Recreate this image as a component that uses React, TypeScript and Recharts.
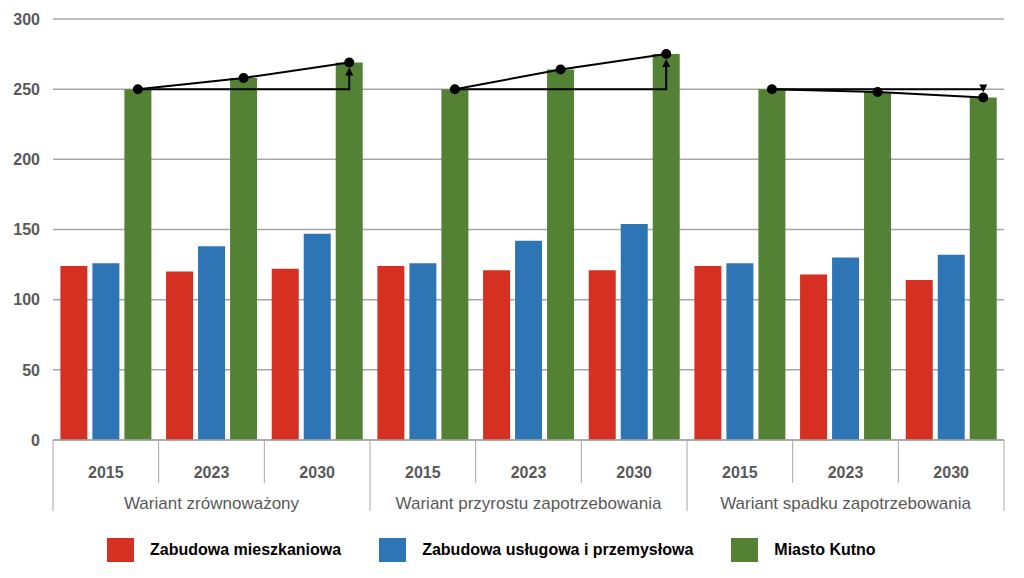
import React from "react";
import {
  ComposedChart,
  Bar,
  XAxis,
  YAxis,
  CartesianGrid,
  Legend,
  LabelList,
} from "recharts";

const years = ["2015", "2023", "2030", "2015", "2023", "2030", "2015", "2023", "2030"];
const variants = [
  "Wariant zrównoważony",
  "Wariant przyrostu zapotrzebowania",
  "Wariant spadku zapotrzebowania",
];
const seriesNames = ["Zabudowa mieszkaniowa", "Zabudowa usługowa i przemysłowa", "Miasto Kutno"];
const mieszkaniowa = [124, 120, 122, 124, 121, 121, 124, 118, 114];
const uslugowa = [126, 138, 147, 126, 142, 154, 126, 130, 132];
const kutno = [250, 258, 269, 250, 264, 275, 250, 248, 244];
const yTicks = [0, 50, 100, 150, 200, 250, 300];

const data = years.map((year, i) => ({
  year,
  variant: variants[Math.floor(i / 3)],
  mieszkaniowa: mieszkaniowa[i],
  uslugowa: uslugowa[i],
  kutno: kutno[i],
}));

const WIDTH = 1024;
const HEIGHT = 578;
const MARGIN = { top: 19, right: 20, left: 0, bottom: 15 };
const Y_AXIS_WIDTH = 53;
const BAND = (WIDTH - MARGIN.left - MARGIN.right - Y_AXIS_WIDTH) / years.length;

const GRID = "#a6a6a6";
const TEXT = "#595959";
const FONT = "'Liberation Sans', Arial, sans-serif";

// year labels, separators and variant labels under the axis
function TwoLevelTick(props: any) {
  const { x, y, payload } = props;
  const i = payload.index;
  const half = payload.offset || BAND / 2;
  const left = x - half;
  const right = x + half;
  const first = i % 3 === 0;
  return (
    <g>
      <line x1={left} x2={left} y1={y} y2={y + (first ? 71 : 43)} stroke={GRID} />
      {i === years.length - 1 && (
        <line x1={right} x2={right} y1={y} y2={y + 71} stroke={GRID} />
      )}
      <text
        x={x}
        y={y + 32}
        dy="0.355em"
        textAnchor="middle"
        fill={TEXT}
        fontWeight="bold"
        fontSize={16}
        fontFamily={FONT}
      >
        {years[i]}
      </text>
      {i % 3 === 1 && (
        <text
          x={x}
          y={y + 63}
          dy="0.355em"
          textAnchor="middle"
          fill={TEXT}
          fontSize={17}
          fontFamily={FONT}
        >
          {variants[Math.floor(i / 3)]}
        </text>
      )}
    </g>
  );
}

// trend lines and dots over the green bars
function Trend(props: any) {
  const vb = props.viewBox && props.viewBox.width != null ? props.viewBox : props;
  const { x, y, width, height } = vb;
  const i = props.index;
  const value = kutno[i];
  if (x == null || !value) return null;
  const unit = height / value;
  const base = y + height;
  const yOf = (v: number) => base - v * unit;
  const cx = x + width / 2;
  const p = i % 3;
  const parts: React.ReactNode[] = [];
  if (p < 2) {
    parts.push(
      <line key="seg" x1={cx} y1={y} x2={cx + BAND} y2={yOf(kutno[i + 1])} stroke="#000" strokeWidth={2} />
    );
  }
  if (p === 0) {
    const ex = cx + 2 * BAND;
    const ey = yOf(kutno[i + 2]);
    const dir = ey < y ? 1 : -1;
    const tipY = ey + dir * 5;
    parts.push(
      <polyline
        key="ref"
        points={`${cx},${y} ${ex},${y} ${ex},${tipY + dir * 6}`}
        fill="none"
        stroke="#000"
        strokeWidth={2}
      />,
      <polygon
        key="head"
        points={`${ex - 4},${tipY + dir * 8} ${ex + 4},${tipY + dir * 8} ${ex},${tipY}`}
        fill="#000"
      />
    );
  }
  parts.push(<circle key="dot" cx={cx} cy={y} r={5} fill="#000" />);
  return <g>{parts}</g>;
}

function LegendContent(props: any) {
  const items = [...(props.payload || [])].sort(
    (a: any, b: any) => seriesNames.indexOf(a.value) - seriesNames.indexOf(b.value)
  );
  return (
    <div
      style={{
        display: "flex",
        gap: 38,
        paddingLeft: 107,
        paddingTop: 21,
        height: 48,
        boxSizing: "border-box",
        fontFamily: FONT,
      }}
    >
      {items.map((it: any) => (
        <div key={it.value} style={{ display: "flex", alignItems: "center", gap: 16 }}>
          <span style={{ width: 27, height: 24, background: it.color, display: "inline-block" }} />
          <span style={{ fontWeight: "bold", fontSize: 16, color: "#000" }}>{it.value}</span>
        </div>
      ))}
    </div>
  );
}

export default function App() {
  return (
    <div style={{ position: "absolute", left: 0, top: 0, background: "#fff" }}>
      <ComposedChart
        width={WIDTH}
        height={HEIGHT}
        data={data}
        margin={MARGIN}
        barCategoryGap="7%"
        barGap={5}
      >
        <CartesianGrid vertical={false} stroke={GRID} strokeWidth={1.5} />
        <XAxis
          interval={0}
          height={75}
          tickLine={false}
          tickSize={0}
          tickMargin={0}
          axisLine={{ stroke: GRID, strokeWidth: 1.5 }}
          tick={<TwoLevelTick />}
        />
        <YAxis
          width={Y_AXIS_WIDTH}
          domain={[0, 300]}
          ticks={yTicks}
          axisLine={false}
          tickLine={false}
          tickSize={0}
          tickMargin={13}
          tick={{ fill: TEXT, fontSize: 16, fontWeight: "bold", fontFamily: FONT }}
        />
        <Legend verticalAlign="bottom" content={<LegendContent />} />
        <Bar dataKey="mieszkaniowa" name={seriesNames[0]} fill="#d53022" isAnimationActive={false} />
        <Bar dataKey="uslugowa" name={seriesNames[1]} fill="#2e75b6" isAnimationActive={false} />
        <Bar dataKey="kutno" name={seriesNames[2]} fill="#548235" isAnimationActive={false}>
          <LabelList dataKey="kutno" content={<Trend />} />
        </Bar>
      </ComposedChart>
    </div>
  );
}
